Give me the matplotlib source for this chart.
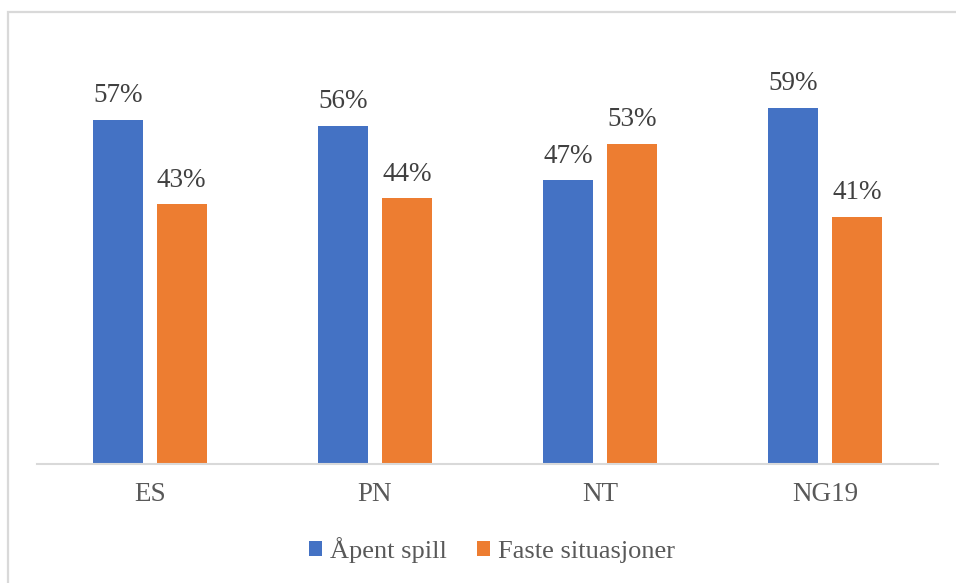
import matplotlib
matplotlib.use("Agg")
import matplotlib.pyplot as plt
from matplotlib.patches import Rectangle, Patch
import numpy as np

categories = ["ES", "PN", "NT", "NG19"]
series_names = ["Åpent spill", "Faste situasjoner"]
apent_spill = [57, 56, 47, 59]
faste_situasjoner = [43, 44, 53, 41]

colors = ["#4472C4", "#ED7D31"]
text_grey = "#595959"
label_grey = "#404040"

plt.rcParams["font.family"] = ["Liberation Serif", "DejaVu Serif"]

W, H, DPI = 956, 583, 100
fig = plt.figure(figsize=(W / DPI, H / DPI), dpi=DPI)

# chart area frame (open at right and bottom)
fig.patches.append(Rectangle((7.5 / W, -0.1), 1.2, 1.1 - 12.5 / H,
                             transform=fig.transFigure, fill=False,
                             edgecolor="#D9D9D9", linewidth=1.6))

ax_left, ax_right = 37 / W, 938 / W
ax_bottom = (H - 464) / H
ymax = 70
px_per_unit = 6.035
ax = fig.add_axes([ax_left, ax_bottom, ax_right - ax_left, ymax * px_per_unit / H])

x = np.arange(len(categories))
offset, width = 0.142, 0.222
for vals, off, col in [(apent_spill, -offset, colors[0]),
                       (faste_situasjoner, offset, colors[1])]:
    bars = ax.bar(x + off, vals, width=width, color=col, zorder=2)
    for b, v in zip(bars, vals):
        ax.annotate(f"{v}%", (b.get_x() + b.get_width() / 2, v),
                    xytext=(0, 8.5), textcoords="offset points",
                    ha="center", va="bottom", fontsize=19.5, color=label_grey)

ax.set_xlim(-0.5, len(categories) - 0.5)
ax.set_ylim(0, ymax)
ax.set_yticks([])
ax.set_xticks(x)
ax.set_xticklabels(categories, fontsize=19.5, color=text_grey)
ax.tick_params(axis="x", length=0, pad=13)
for s in ["top", "right", "left"]:
    ax.spines[s].set_visible(False)
ax.spines["bottom"].set_color("#D9D9D9")
ax.spines["bottom"].set_linewidth(1.5)
ax.patch.set_alpha(0)

handles = [Patch(facecolor=c, edgecolor="none") for c in colors]
fig.legend(handles, series_names, loc="center", bbox_to_anchor=(492 / W, 1 - 550 / H),
           ncol=2, frameon=False, fontsize=19, labelcolor=text_grey,
           handlelength=0.5, handleheight=0.5, handletextpad=0.3,
           columnspacing=1.15)

fig.savefig("out.png", dpi=DPI, facecolor="white")
